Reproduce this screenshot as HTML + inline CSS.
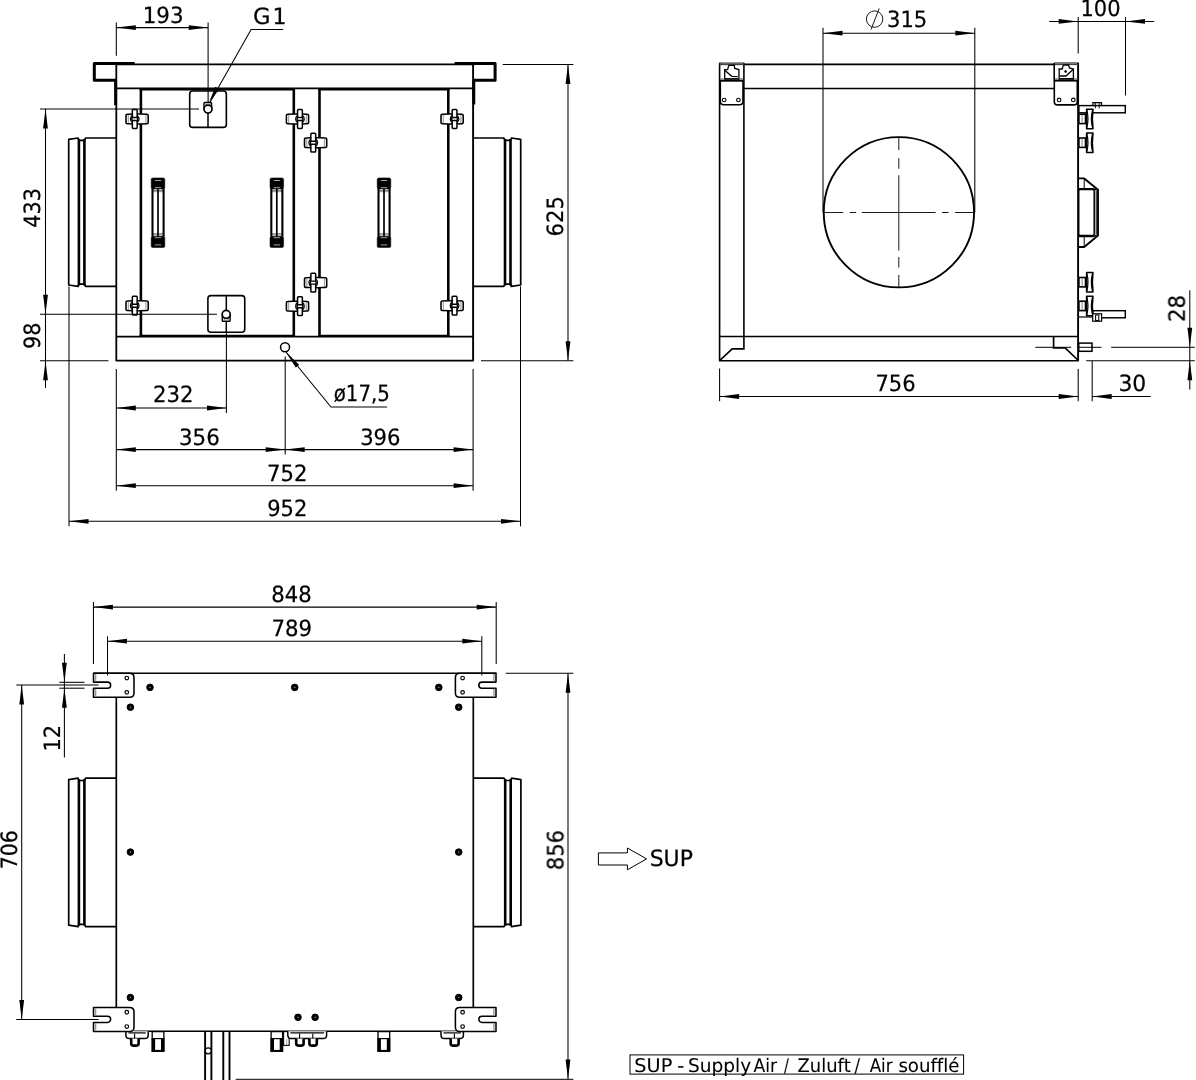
<!DOCTYPE html>
<html lang="en"><head><meta charset="utf-8"><title>Dimensional drawing</title>
<style>
html,body{margin:0;padding:0;background:#fff;}
body{width:1196px;height:1080px;overflow:hidden;}
svg{display:block;}
svg text{font-family:"DejaVu Sans","Liberation Sans",sans-serif;}
#txt{opacity:0.999;text-rendering:geometricPrecision;font-variant-ligatures:none;font-kerning:none;}
</style></head><body>
<svg width="1196" height="1080" viewBox="0 0 1196 1080" fill="none" stroke="#000" stroke-linecap="butt">
<rect x="0" y="0" width="1196" height="1080" fill="#fff" stroke="none"/>
<g id="front">
<path d="M116.30 64.30L473.10 64.30" stroke-width="1.75" />
<path d="M116.30 64.30L116.30 360.70" stroke-width="1.8" />
<path d="M473.10 64.30L473.10 360.70" stroke-width="1.9" />
<path d="M115.70 360.70L473.70 360.70" stroke-width="1.8" />
<path d="M116.30 88.40L473.10 88.40" stroke-width="1.9" />
<path d="M116.30 336.65L473.10 336.65" stroke-width="1.8" />
<path d="M140.90 88.50L140.90 336.50" stroke-width="2.6" />
<path d="M293.80 88.50L293.80 336.50" stroke-width="2.6" />
<path d="M319.50 88.50L319.50 336.50" stroke-width="2.6" />
<path d="M448.30 88.50L448.30 336.50" stroke-width="2.6" />
<path d="M139.70 89.30L295.00 89.30" stroke-width="2.4" />
<path d="M318.30 89.30L449.50 89.30" stroke-width="2.4" />
<path d="M139.70 335.90L295.00 335.90" stroke-width="2.3" />
<path d="M318.30 335.90L449.50 335.90" stroke-width="2.3" />
<path d="M127.20 114.25L134.10 113.95L140.10 113.95L147.00 114.25Q148.20 114.25 148.20 115.45L148.20 122.55Q148.20 123.75 147.00 123.75L140.10 124.05L134.10 124.05L127.20 123.75Q126.00 123.75 126.00 122.55L126.00 115.45Q126.00 114.25 127.20 114.25Z" stroke-width="1.55" fill="#fff" stroke-linejoin="round"/>
<path d="M128.30 115.00L128.30 123.00" stroke-width="0.9" stroke="#888"/>
<path d="M145.90 115.00L145.90 123.00" stroke-width="0.9" stroke="#888"/>
<path d="M132.35 115.43A4.3 4.3 0 0 0 132.35 122.57M137.15 115.43A4.3 4.3 0 0 1 137.15 122.57" stroke-width="1.25" fill="none"/>
<rect x="132.35" y="109.60" width="4.80" height="18.80" rx="0.8" stroke-width="1.5" fill="#fff" />
<rect x="131.85" y="117.50" width="5.80" height="3.00" rx="1.2" stroke-width="1.4" fill="#fff" />
<path d="M287.60 114.25L294.50 113.95L300.50 113.95L307.40 114.25Q308.60 114.25 308.60 115.45L308.60 122.55Q308.60 123.75 307.40 123.75L300.50 124.05L294.50 124.05L287.60 123.75Q286.40 123.75 286.40 122.55L286.40 115.45Q286.40 114.25 287.60 114.25Z" stroke-width="1.55" fill="#fff" stroke-linejoin="round"/>
<path d="M288.70 115.00L288.70 123.00" stroke-width="0.9" stroke="#888"/>
<path d="M306.30 115.00L306.30 123.00" stroke-width="0.9" stroke="#888"/>
<path d="M297.55 115.43A4.3 4.3 0 0 0 297.55 122.57M302.35 115.43A4.3 4.3 0 0 1 302.35 122.57" stroke-width="1.25" fill="none"/>
<rect x="297.55" y="109.60" width="4.80" height="18.80" rx="0.8" stroke-width="1.5" fill="#fff" />
<rect x="297.05" y="117.50" width="5.80" height="3.00" rx="1.2" stroke-width="1.4" fill="#fff" />
<path d="M305.70 137.95L312.60 137.65L318.60 137.65L325.50 137.95Q326.70 137.95 326.70 139.15L326.70 146.25Q326.70 147.45 325.50 147.45L318.60 147.75L312.60 147.75L305.70 147.45Q304.50 147.45 304.50 146.25L304.50 139.15Q304.50 137.95 305.70 137.95Z" stroke-width="1.55" fill="#fff" stroke-linejoin="round"/>
<path d="M306.80 138.70L306.80 146.70" stroke-width="0.9" stroke="#888"/>
<path d="M324.40 138.70L324.40 146.70" stroke-width="0.9" stroke="#888"/>
<path d="M310.85 139.13A4.3 4.3 0 0 0 310.85 146.27M315.65 139.13A4.3 4.3 0 0 1 315.65 146.27" stroke-width="1.25" fill="none"/>
<rect x="310.85" y="133.30" width="4.80" height="18.80" rx="0.8" stroke-width="1.5" fill="#fff" />
<rect x="310.35" y="141.20" width="5.80" height="3.00" rx="1.2" stroke-width="1.4" fill="#fff" />
<path d="M442.20 114.25L449.10 113.95L455.10 113.95L462.00 114.25Q463.20 114.25 463.20 115.45L463.20 122.55Q463.20 123.75 462.00 123.75L455.10 124.05L449.10 124.05L442.20 123.75Q441.00 123.75 441.00 122.55L441.00 115.45Q441.00 114.25 442.20 114.25Z" stroke-width="1.55" fill="#fff" stroke-linejoin="round"/>
<path d="M443.30 115.00L443.30 123.00" stroke-width="0.9" stroke="#888"/>
<path d="M460.90 115.00L460.90 123.00" stroke-width="0.9" stroke="#888"/>
<path d="M452.15 115.43A4.3 4.3 0 0 0 452.15 122.57M456.95 115.43A4.3 4.3 0 0 1 456.95 122.57" stroke-width="1.25" fill="none"/>
<rect x="452.15" y="109.60" width="4.80" height="18.80" rx="0.8" stroke-width="1.5" fill="#fff" />
<rect x="451.65" y="117.50" width="5.80" height="3.00" rx="1.2" stroke-width="1.4" fill="#fff" />
<path d="M127.20 300.95L134.10 300.65L140.10 300.65L147.00 300.95Q148.20 300.95 148.20 302.15L148.20 309.25Q148.20 310.45 147.00 310.45L140.10 310.75L134.10 310.75L127.20 310.45Q126.00 310.45 126.00 309.25L126.00 302.15Q126.00 300.95 127.20 300.95Z" stroke-width="1.55" fill="#fff" stroke-linejoin="round"/>
<path d="M128.30 301.70L128.30 309.70" stroke-width="0.9" stroke="#888"/>
<path d="M145.90 301.70L145.90 309.70" stroke-width="0.9" stroke="#888"/>
<path d="M132.35 302.13A4.3 4.3 0 0 0 132.35 309.27M137.15 302.13A4.3 4.3 0 0 1 137.15 309.27" stroke-width="1.25" fill="none"/>
<rect x="132.35" y="296.30" width="4.80" height="18.80" rx="0.8" stroke-width="1.5" fill="#fff" />
<rect x="131.85" y="304.20" width="5.80" height="3.00" rx="1.2" stroke-width="1.4" fill="#fff" />
<path d="M287.60 301.45L294.50 301.15L300.50 301.15L307.40 301.45Q308.60 301.45 308.60 302.65L308.60 309.75Q308.60 310.95 307.40 310.95L300.50 311.25L294.50 311.25L287.60 310.95Q286.40 310.95 286.40 309.75L286.40 302.65Q286.40 301.45 287.60 301.45Z" stroke-width="1.55" fill="#fff" stroke-linejoin="round"/>
<path d="M288.70 302.20L288.70 310.20" stroke-width="0.9" stroke="#888"/>
<path d="M306.30 302.20L306.30 310.20" stroke-width="0.9" stroke="#888"/>
<path d="M297.55 302.63A4.3 4.3 0 0 0 297.55 309.77M302.35 302.63A4.3 4.3 0 0 1 302.35 309.77" stroke-width="1.25" fill="none"/>
<rect x="297.55" y="296.80" width="4.80" height="18.80" rx="0.8" stroke-width="1.5" fill="#fff" />
<rect x="297.05" y="304.70" width="5.80" height="3.00" rx="1.2" stroke-width="1.4" fill="#fff" />
<path d="M305.70 277.85L312.60 277.55L318.60 277.55L325.50 277.85Q326.70 277.85 326.70 279.05L326.70 286.15Q326.70 287.35 325.50 287.35L318.60 287.65L312.60 287.65L305.70 287.35Q304.50 287.35 304.50 286.15L304.50 279.05Q304.50 277.85 305.70 277.85Z" stroke-width="1.55" fill="#fff" stroke-linejoin="round"/>
<path d="M306.80 278.60L306.80 286.60" stroke-width="0.9" stroke="#888"/>
<path d="M324.40 278.60L324.40 286.60" stroke-width="0.9" stroke="#888"/>
<path d="M310.85 279.03A4.3 4.3 0 0 0 310.85 286.17M315.65 279.03A4.3 4.3 0 0 1 315.65 286.17" stroke-width="1.25" fill="none"/>
<rect x="310.85" y="273.20" width="4.80" height="18.80" rx="0.8" stroke-width="1.5" fill="#fff" />
<rect x="310.35" y="281.10" width="5.80" height="3.00" rx="1.2" stroke-width="1.4" fill="#fff" />
<path d="M442.20 300.95L449.10 300.65L455.10 300.65L462.00 300.95Q463.20 300.95 463.20 302.15L463.20 309.25Q463.20 310.45 462.00 310.45L455.10 310.75L449.10 310.75L442.20 310.45Q441.00 310.45 441.00 309.25L441.00 302.15Q441.00 300.95 442.20 300.95Z" stroke-width="1.55" fill="#fff" stroke-linejoin="round"/>
<path d="M443.30 301.70L443.30 309.70" stroke-width="0.9" stroke="#888"/>
<path d="M460.90 301.70L460.90 309.70" stroke-width="0.9" stroke="#888"/>
<path d="M452.15 302.13A4.3 4.3 0 0 0 452.15 309.27M456.95 302.13A4.3 4.3 0 0 1 456.95 309.27" stroke-width="1.25" fill="none"/>
<rect x="452.15" y="296.30" width="4.80" height="18.80" rx="0.8" stroke-width="1.5" fill="#fff" />
<rect x="451.65" y="304.20" width="5.80" height="3.00" rx="1.2" stroke-width="1.4" fill="#fff" />
<path d="M134.70 63.50L94.30 63.50L94.30 80.30L116.20 80.30" stroke-width="3.0" fill="none" stroke-linejoin="round"/>
<path d="M115.60 80.20L115.60 105.20" stroke-width="3.0" />
<path d="M454.60 63.50L495.10 63.50L495.10 80.20L473.20 80.20" stroke-width="3.0" fill="none" stroke-linejoin="round"/>
<path d="M473.80 80.20L473.80 104.60" stroke-width="2.9" />
<path d="M116.30 138.00L85.60 138.00L84.40 140.30L78.90 140.30L78.10 138.00L68.70 139.40L68.70 285.00L78.10 286.40L78.90 284.10L84.40 284.10L85.60 286.40L116.30 286.40" stroke-width="1.7" fill="none" stroke-linejoin="round"/>
<path d="M78.90 139.00L78.90 285.40" stroke-width="2.6" />
<path d="M84.40 139.00L84.40 285.40" stroke-width="2.6" />
<path d="M473.10 138.00L503.80 138.00L505.00 140.30L510.50 140.30L511.30 138.00L520.70 139.40L520.70 285.00L511.30 286.40L510.50 284.10L505.00 284.10L503.80 286.40L473.10 286.40" stroke-width="1.7" fill="none" stroke-linejoin="round"/>
<path d="M510.50 139.00L510.50 285.40" stroke-width="2.6" />
<path d="M505.00 139.00L505.00 285.40" stroke-width="2.6" />
<rect x="151.20" y="177.90" width="13.60" height="11.20" rx="1.6" stroke-width="0.5" fill="#000" />
<rect x="151.20" y="236.30" width="13.60" height="11.20" rx="1.6" stroke-width="0.5" fill="#000" />
<path d="M154.80 180.50L161.20 180.50" stroke-width="0.8" stroke="#ccc"/>
<path d="M154.80 187.70L161.20 187.70" stroke-width="0.8" stroke="#ccc"/>
<path d="M154.80 237.70L161.20 237.70" stroke-width="0.8" stroke="#ccc"/>
<path d="M154.80 244.90L161.20 244.90" stroke-width="0.8" stroke="#ccc"/>
<path d="M152.20 190.50L163.80 190.50" stroke-width="0.7" stroke="#555"/>
<path d="M152.20 191.70L163.80 191.70" stroke-width="0.7" stroke="#555"/>
<path d="M152.20 234.90L163.80 234.90" stroke-width="0.7" stroke="#555"/>
<path d="M152.20 233.70L163.80 233.70" stroke-width="0.7" stroke="#555"/>
<path d="M152.50 188.90L152.50 236.50" stroke-width="2.1" />
<path d="M158.00 188.90L158.00 236.50" stroke-width="1.7" />
<path d="M163.60 188.90L163.60 236.50" stroke-width="2.1" />
<rect x="270.00" y="177.90" width="13.60" height="11.20" rx="1.6" stroke-width="0.5" fill="#000" />
<rect x="270.00" y="236.30" width="13.60" height="11.20" rx="1.6" stroke-width="0.5" fill="#000" />
<path d="M273.60 180.50L280.00 180.50" stroke-width="0.8" stroke="#ccc"/>
<path d="M273.60 187.70L280.00 187.70" stroke-width="0.8" stroke="#ccc"/>
<path d="M273.60 237.70L280.00 237.70" stroke-width="0.8" stroke="#ccc"/>
<path d="M273.60 244.90L280.00 244.90" stroke-width="0.8" stroke="#ccc"/>
<path d="M271.00 190.50L282.60 190.50" stroke-width="0.7" stroke="#555"/>
<path d="M271.00 191.70L282.60 191.70" stroke-width="0.7" stroke="#555"/>
<path d="M271.00 234.90L282.60 234.90" stroke-width="0.7" stroke="#555"/>
<path d="M271.00 233.70L282.60 233.70" stroke-width="0.7" stroke="#555"/>
<path d="M271.30 188.90L271.30 236.50" stroke-width="2.1" />
<path d="M276.80 188.90L276.80 236.50" stroke-width="1.7" />
<path d="M282.40 188.90L282.40 236.50" stroke-width="2.1" />
<rect x="377.20" y="177.90" width="13.60" height="11.20" rx="1.6" stroke-width="0.5" fill="#000" />
<rect x="377.20" y="236.30" width="13.60" height="11.20" rx="1.6" stroke-width="0.5" fill="#000" />
<path d="M380.80 180.50L387.20 180.50" stroke-width="0.8" stroke="#ccc"/>
<path d="M380.80 187.70L387.20 187.70" stroke-width="0.8" stroke="#ccc"/>
<path d="M380.80 237.70L387.20 237.70" stroke-width="0.8" stroke="#ccc"/>
<path d="M380.80 244.90L387.20 244.90" stroke-width="0.8" stroke="#ccc"/>
<path d="M378.20 190.50L389.80 190.50" stroke-width="0.7" stroke="#555"/>
<path d="M378.20 191.70L389.80 191.70" stroke-width="0.7" stroke="#555"/>
<path d="M378.20 234.90L389.80 234.90" stroke-width="0.7" stroke="#555"/>
<path d="M378.20 233.70L389.80 233.70" stroke-width="0.7" stroke="#555"/>
<path d="M378.50 188.90L378.50 236.50" stroke-width="2.1" />
<path d="M384.00 188.90L384.00 236.50" stroke-width="1.7" />
<path d="M389.60 188.90L389.60 236.50" stroke-width="2.1" />
<rect x="189.70" y="91.00" width="36.65" height="36.40" rx="3.0" stroke-width="1.6" fill="none" />
<rect x="204.00" y="102.50" width="7.60" height="6.50" rx="0.8" stroke-width="1.4" fill="none" />
<path d="M205.60 104.60L207.00 104.60" stroke-width="1.6" stroke="#777"/>
<path d="M209.00 104.60L210.40 104.60" stroke-width="1.6" stroke="#777"/>
<circle cx="208.00" cy="109.10" r="4.0" stroke-width="1.7" fill="#fff" />
<path d="M208.00 113.40L208.00 127.40" stroke-width="1.5" />
<rect x="207.90" y="295.60" width="36.85" height="36.65" rx="3.0" stroke-width="1.6" fill="none" />
<rect x="222.30" y="314.40" width="7.80" height="6.80" rx="0.8" stroke-width="1.4" fill="none" />
<path d="M223.80 318.90L225.20 318.90" stroke-width="1.6" stroke="#777"/>
<path d="M227.30 318.90L228.70 318.90" stroke-width="1.6" stroke="#777"/>
<circle cx="226.20" cy="314.35" r="4.0" stroke-width="1.7" fill="#fff" />
<path d="M226.30 295.60L226.30 310.00" stroke-width="1.5" />
<path d="M226.30 321.90L226.30 332.20" stroke-width="1.5" />
<circle cx="285.05" cy="347.30" r="4.5" stroke-width="1.5" fill="none" />
</g>
<g id="fdim">
<path d="M116.30 22.50L116.30 55.70" stroke-width="1.05" />
<path d="M208.10 22.50L208.10 102.50" stroke-width="1.05" />
<path d="M116.30 27.60L208.20 27.60" stroke-width="1.05" />
<path d="M116.30 27.60L135.80 25.20L135.80 30.00Z" fill="#000" stroke="none"/>
<path d="M208.20 27.60L188.70 25.20L188.70 30.00Z" fill="#000" stroke="none"/>
<path d="M283.20 29.40L251.10 29.40L209.60 103.00" stroke-width="1.05" fill="none" />
<path d="M209.10 102.30L215.34 86.85L219.33 89.15Z" fill="#000" stroke="none"/>
<path d="M40.00 108.90L199.00 108.90" stroke-width="1.05" />
<path d="M40.00 314.25L217.00 314.25" stroke-width="1.05" />
<path d="M40.00 360.70L108.40 360.70" stroke-width="1.05" />
<path d="M45.50 108.90L45.50 388.00" stroke-width="1.05" />
<path d="M45.50 108.90L43.10 128.40L47.90 128.40Z" fill="#000" stroke="none"/>
<path d="M45.50 314.30L43.10 294.80L47.90 294.80Z" fill="#000" stroke="none"/>
<path d="M45.50 360.70L43.10 380.20L47.90 380.20Z" fill="#000" stroke="none"/>
<path d="M502.70 64.40L573.40 64.40" stroke-width="1.05" />
<path d="M481.00 360.70L573.40 360.70" stroke-width="1.05" />
<path d="M568.00 64.40L568.00 360.70" stroke-width="1.05" />
<path d="M568.00 64.40L565.60 83.90L570.40 83.90Z" fill="#000" stroke="none"/>
<path d="M568.00 360.70L565.60 341.20L570.40 341.20Z" fill="#000" stroke="none"/>
<path d="M226.40 332.00L226.40 413.00" stroke-width="1.05" />
<path d="M116.30 408.00L226.50 408.00" stroke-width="1.05" />
<path d="M116.30 408.00L135.80 405.60L135.80 410.40Z" fill="#000" stroke="none"/>
<path d="M226.50 408.00L207.00 405.60L207.00 410.40Z" fill="#000" stroke="none"/>
<path d="M285.20 356.50L285.20 454.40" stroke-width="1.05" />
<path d="M116.30 449.60L473.10 449.60" stroke-width="1.05" />
<path d="M116.30 449.60L135.80 447.20L135.80 452.00Z" fill="#000" stroke="none"/>
<path d="M285.20 449.60L265.70 447.20L265.70 452.00Z" fill="#000" stroke="none"/>
<path d="M285.20 449.60L304.70 447.20L304.70 452.00Z" fill="#000" stroke="none"/>
<path d="M473.10 449.60L453.60 447.20L453.60 452.00Z" fill="#000" stroke="none"/>
<path d="M116.30 369.00L116.30 490.70" stroke-width="1.05" />
<path d="M473.10 369.00L473.10 490.70" stroke-width="1.05" />
<path d="M116.30 485.70L473.10 485.70" stroke-width="1.05" />
<path d="M116.30 485.70L135.80 483.30L135.80 488.10Z" fill="#000" stroke="none"/>
<path d="M473.10 485.70L453.60 483.30L453.60 488.10Z" fill="#000" stroke="none"/>
<path d="M69.00 286.40L69.00 526.30" stroke-width="1.05" />
<path d="M520.50 286.40L520.50 526.30" stroke-width="1.05" />
<path d="M69.00 521.30L520.50 521.30" stroke-width="1.05" />
<path d="M69.00 521.30L88.50 518.90L88.50 523.70Z" fill="#000" stroke="none"/>
<path d="M520.50 521.30L501.00 518.90L501.00 523.70Z" fill="#000" stroke="none"/>
<path d="M286.00 352.00L331.00 407.00L387.10 407.00" stroke-width="1.05" fill="none" />
<path d="M285.80 351.90L299.17 364.73L295.77 367.52Z" fill="#000" stroke="none"/>
</g>
<g id="side">
<path d="M719.60 63.20L719.60 360.70" stroke-width="1.6" />
<path d="M743.90 63.20L743.90 337.00" stroke-width="1.6" />
<path d="M743.70 64.40L1054.20 64.40" stroke-width="1.6" />
<path d="M744.20 88.50L1054.20 88.50" stroke-width="1.6" />
<path d="M1078.10 63.00L1078.10 360.70" stroke-width="1.9" />
<path d="M719.60 336.40L1077.40 336.40" stroke-width="1.5" />
<path d="M719.00 360.70L1078.80 360.70" stroke-width="1.6" />
<path d="M719.00 63.10L744.30 63.10" stroke-width="1.0" />
<path d="M719.60 64.60L743.70 64.60" stroke-width="1.2" stroke="#444"/>
<path d="M719.60 80.60L743.70 80.60" stroke-width="2.2" />
<path d="M720.3 81V101.3Q720.3 104.7 723.7 104.7H739.6Q743 104.7 743 101.3V81" stroke-width="1.6" fill="none"/>
<circle cx="724.20" cy="100.00" r="1.8" stroke-width="1.1" fill="none" />
<circle cx="738.40" cy="100.00" r="1.8" stroke-width="1.1" fill="none" />
<path d="M724.70 79.60L724.70 69.60L727.60 69.60L728.40 66.60L728.90 65.40L734.30 65.40L734.70 68.40L738.90 69.60L738.90 79.60" stroke-width="1.3" fill="none" />
<path d="M725.00 70.40L731.80 76.30L737.60 76.70" stroke-width="1.3" fill="none" />
<path d="M724.70 78.90L738.90 78.90" stroke-width="1.6" />
<rect x="720.60" y="78.00" width="2.60" height="2.00" rx="0" stroke-width="0.1" fill="#999" stroke="none"/>
<rect x="740.00" y="78.00" width="2.70" height="2.00" rx="0" stroke-width="0.1" fill="#999" stroke="none"/>
<path d="M1054.20 63.00L1078.80 63.00" stroke-width="1.0" />
<path d="M1054.20 64.50L1078.20 64.50" stroke-width="1.2" stroke="#444"/>
<path d="M1054.20 63.00L1054.20 81.00" stroke-width="1.6" />
<path d="M1054.20 80.50L1078.20 80.50" stroke-width="2.2" />
<path d="M1054.3 81V101.5Q1054.3 104.9 1057.7 104.9H1073.9Q1077.3 104.9 1077.3 101.5V81" stroke-width="1.6" fill="none"/>
<circle cx="1059.10" cy="99.90" r="1.8" stroke-width="1.1" fill="none" />
<circle cx="1073.30" cy="99.90" r="1.8" stroke-width="1.1" fill="none" />
<path d="M1059.20 79.40L1059.20 69.00L1062.20 69.00L1063.00 66.00L1063.60 65.00L1068.60 65.00L1069.40 68.00L1073.40 69.00L1073.40 79.40" stroke-width="1.3" fill="none" />
<path d="M1060.00 76.00L1066.00 76.00L1073.00 69.60" stroke-width="1.3" fill="none" />
<circle cx="1065.60" cy="71.50" r="0.9" stroke-width="1.0" fill="#000" />
<path d="M1059.20 78.80L1073.40 78.80" stroke-width="1.6" />
<rect x="1055.00" y="78.00" width="2.60" height="2.00" rx="0" stroke-width="0.1" fill="#999" stroke="none"/>
<rect x="1074.60" y="78.00" width="2.60" height="2.00" rx="0" stroke-width="0.1" fill="#999" stroke="none"/>
<path d="M743.90 336.40L743.90 348.90L732.20 348.90L719.60 360.70" stroke-width="1.6" fill="none" />
<path d="M1053.60 336.40L1053.60 347.80L1065.10 347.80L1077.80 360.00" stroke-width="1.7" fill="none" />
<circle cx="898.90" cy="212.25" r="75.15" stroke-width="1.9" fill="none" />
<path d="M898.8 136.7V150.1M898.8 158.2V168.7M898.8 175.2V250.6M898.8 257V267.6M898.8 274.9V287.8" stroke-width="0.9"/>
<path d="M823 212.5H843.2M849.7 212.5H856.2M861.8 212.5H935.6M942 212.5H948.5M955 212.5H974.9" stroke-width="0.9"/>
<rect x="1078.90" y="105.60" width="46.40" height="7.20" rx="0" stroke-width="1.45" fill="#fff" />
<path d="M1092.90 105.40L1092.90 102.60L1101.50 102.60L1101.50 105.40" stroke-width="1.2" fill="none" />
<path d="M1095.30 103.00L1095.30 108.20" stroke-width="1.0" />
<path d="M1099.20 103.00L1099.20 108.20" stroke-width="1.0" />
<rect x="1078.90" y="114.20" width="6.60" height="9.40" rx="0" stroke-width="1.6" fill="#fff" />
<path d="M1082.10 114.90L1082.10 122.90" stroke-width="0.8" stroke="#666"/>
<path d="M1086.6 109.15L1093.0 109.15Q1091.7 118.9 1093.0 128.65L1086.6 128.65Z" stroke-width="1.5" fill="#fff" stroke-linejoin="round"/>
<path d="M1086.8999999999999 110.15Q1089.0 118.9 1086.8999999999999 127.65" stroke-width="1.2" fill="none"/>
<path d="M1092.5 110.15Q1090.2 118.9 1092.5 127.65" stroke-width="1.2" fill="none"/>
<rect x="1078.90" y="138.00" width="6.60" height="9.40" rx="0" stroke-width="1.6" fill="#fff" />
<path d="M1082.10 138.70L1082.10 146.70" stroke-width="0.8" stroke="#666"/>
<path d="M1086.6 132.95L1093.0 132.95Q1091.7 142.7 1093.0 152.45L1086.6 152.45Z" stroke-width="1.5" fill="#fff" stroke-linejoin="round"/>
<path d="M1086.8999999999999 133.95Q1089.0 142.7 1086.8999999999999 151.45" stroke-width="1.2" fill="none"/>
<path d="M1092.5 133.95Q1090.2 142.7 1092.5 151.45" stroke-width="1.2" fill="none"/>
<rect x="1078.90" y="277.50" width="6.60" height="9.40" rx="0" stroke-width="1.6" fill="#fff" />
<path d="M1082.10 278.20L1082.10 286.20" stroke-width="0.8" stroke="#666"/>
<path d="M1086.6 272.45L1093.0 272.45Q1091.7 282.2 1093.0 291.95L1086.6 291.95Z" stroke-width="1.5" fill="#fff" stroke-linejoin="round"/>
<path d="M1086.8999999999999 273.45Q1089.0 282.2 1086.8999999999999 290.95" stroke-width="1.2" fill="none"/>
<path d="M1092.5 273.45Q1090.2 282.2 1092.5 290.95" stroke-width="1.2" fill="none"/>
<rect x="1078.90" y="301.20" width="6.60" height="9.40" rx="0" stroke-width="1.6" fill="#fff" />
<path d="M1082.10 301.90L1082.10 309.90" stroke-width="0.8" stroke="#666"/>
<path d="M1086.6 296.15L1093.0 296.15Q1091.7 305.9 1093.0 315.65L1086.6 315.65Z" stroke-width="1.5" fill="#fff" stroke-linejoin="round"/>
<path d="M1086.8999999999999 297.15Q1089.0 305.9 1086.8999999999999 314.65" stroke-width="1.2" fill="none"/>
<path d="M1092.5 297.15Q1090.2 305.9 1092.5 314.65" stroke-width="1.2" fill="none"/>
<rect x="1093.00" y="310.70" width="32.30" height="7.10" rx="0" stroke-width="1.45" fill="#fff" />
<path d="M1078.70 317.00L1092.70 317.00" stroke-width="1.2" />
<rect x="1092.70" y="313.80" width="8.90" height="7.40" rx="0" stroke-width="1.2" fill="#fff" />
<rect x="1095.60" y="315.00" width="3.20" height="5.50" rx="0" stroke-width="1.0" fill="none" />
<path d="M1078.70 178.40L1084.20 178.40L1098.00 189.80L1098.00 235.40L1084.20 247.00L1078.70 247.00" stroke-width="1.9" fill="none" stroke-linejoin="round"/>
<path d="M1084.20 178.30L1084.20 189.00" stroke-width="1.0" />
<path d="M1084.20 236.40L1084.20 247.10" stroke-width="1.0" />
<path d="M1078.70 188.80L1093.00 188.80L1096.60 189.80" stroke-width="1.5" fill="none" />
<path d="M1078.70 236.40L1093.00 236.40L1096.60 235.40" stroke-width="1.5" fill="none" />
<rect x="1078.70" y="189.60" width="15.50" height="46.00" rx="1.5" stroke-width="1.5" fill="none" />
<path d="M1096.20 190.50L1096.20 234.70" stroke-width="1.0" />
<rect x="1078.70" y="343.10" width="13.30" height="8.20" rx="0" stroke-width="1.5" fill="none" />
</g>
<g id="sdim">
<path d="M823.00 27.80L823.00 212.50" stroke-width="1.05" />
<path d="M974.80 27.80L974.80 212.50" stroke-width="1.05" />
<path d="M823.00 33.20L974.80 33.20" stroke-width="1.05" />
<path d="M823.00 33.20L842.50 30.80L842.50 35.60Z" fill="#000" stroke="none"/>
<path d="M974.80 33.20L955.30 30.80L955.30 35.60Z" fill="#000" stroke="none"/>
<circle cx="874.60" cy="19.10" r="8.2" stroke-width="0.9" fill="none" />
<path d="M871.00 29.60L879.20 8.40" stroke-width="0.9" />
<path d="M1078.20 17.10L1078.20 53.60" stroke-width="1.05" />
<path d="M1125.50 17.10L1125.50 95.50" stroke-width="1.05" />
<path d="M1049.20 21.40L1154.20 21.40" stroke-width="1.05" />
<path d="M1078.20 21.40L1058.70 19.00L1058.70 23.80Z" fill="#000" stroke="none"/>
<path d="M1125.50 21.40L1145.00 19.00L1145.00 23.80Z" fill="#000" stroke="none"/>
<path d="M719.60 368.50L719.60 401.20" stroke-width="1.05" />
<path d="M1078.20 369.00L1078.20 401.20" stroke-width="1.05" />
<path d="M1092.20 361.00L1092.20 401.20" stroke-width="1.05" />
<path d="M719.60 396.50L1078.20 396.50" stroke-width="1.05" />
<path d="M719.60 396.50L739.10 394.10L739.10 398.90Z" fill="#000" stroke="none"/>
<path d="M1078.20 396.50L1058.70 394.10L1058.70 398.90Z" fill="#000" stroke="none"/>
<path d="M1092.20 396.50L1150.80 396.50" stroke-width="1.05" />
<path d="M1092.20 396.50L1111.70 394.10L1111.70 398.90Z" fill="#000" stroke="none"/>
<path d="M1035.3 347.3H1071.2M1079 347.3H1101.5M1111.2 347.3H1194.8" stroke-width="1.0"/>
<path d="M1086.20 360.70L1194.80 360.70" stroke-width="1.05" />
<path d="M1189.80 290.30L1189.80 347.30" stroke-width="1.05" />
<path d="M1189.80 360.70L1189.80 389.40" stroke-width="1.05" />
<path d="M1189.80 347.30L1189.80 360.70" stroke-width="1.05" />
<path d="M1189.80 347.30L1187.40 327.80L1192.20 327.80Z" fill="#000" stroke="none"/>
<path d="M1189.80 360.70L1187.40 380.20L1192.20 380.20Z" fill="#000" stroke="none"/>
</g>
<g id="plan">
<path d="M93.40 673.20L496.30 673.20" stroke-width="1.4" />
<path d="M116.30 697.20L116.30 1007.70" stroke-width="1.7" />
<path d="M473.30 697.20L473.30 1007.70" stroke-width="1.7" />
<path d="M134.00 1031.30L455.80 1031.30" stroke-width="1.4" />
<circle cx="150.00" cy="687.40" r="3.3" stroke-width="1.0" fill="#000" />
<circle cx="150.00" cy="687.40" r="0.55" stroke-width="0.5" fill="#888" stroke="#888"/>
<circle cx="294.70" cy="687.40" r="3.3" stroke-width="1.0" fill="#000" />
<circle cx="294.70" cy="687.40" r="0.55" stroke-width="0.5" fill="#888" stroke="#888"/>
<circle cx="438.80" cy="687.40" r="3.3" stroke-width="1.0" fill="#000" />
<circle cx="438.80" cy="687.40" r="0.55" stroke-width="0.5" fill="#888" stroke="#888"/>
<circle cx="130.40" cy="707.20" r="3.3" stroke-width="1.0" fill="#000" />
<circle cx="130.40" cy="707.20" r="0.55" stroke-width="0.5" fill="#888" stroke="#888"/>
<circle cx="458.70" cy="707.20" r="3.3" stroke-width="1.0" fill="#000" />
<circle cx="458.70" cy="707.20" r="0.55" stroke-width="0.5" fill="#888" stroke="#888"/>
<circle cx="130.40" cy="852.10" r="3.3" stroke-width="1.0" fill="#000" />
<circle cx="130.40" cy="852.10" r="0.55" stroke-width="0.5" fill="#888" stroke="#888"/>
<circle cx="458.70" cy="852.10" r="3.3" stroke-width="1.0" fill="#000" />
<circle cx="458.70" cy="852.10" r="0.55" stroke-width="0.5" fill="#888" stroke="#888"/>
<circle cx="130.40" cy="997.50" r="3.3" stroke-width="1.0" fill="#000" />
<circle cx="130.40" cy="997.50" r="0.55" stroke-width="0.5" fill="#888" stroke="#888"/>
<circle cx="458.70" cy="997.50" r="3.3" stroke-width="1.0" fill="#000" />
<circle cx="458.70" cy="997.50" r="0.55" stroke-width="0.5" fill="#888" stroke="#888"/>
<circle cx="298.00" cy="1017.30" r="3.3" stroke-width="1.0" fill="#000" />
<circle cx="298.00" cy="1017.30" r="0.55" stroke-width="0.5" fill="#888" stroke="#888"/>
<circle cx="315.10" cy="1017.30" r="3.3" stroke-width="1.0" fill="#000" />
<circle cx="315.10" cy="1017.30" r="0.55" stroke-width="0.5" fill="#888" stroke="#888"/>
<path d="M116.30 778.20L85.60 778.20L84.40 780.50L78.90 780.50L78.10 778.20L68.70 779.60L68.70 925.20L78.10 926.60L78.90 924.30L84.40 924.30L85.60 926.60L116.30 926.60" stroke-width="1.7" fill="none" stroke-linejoin="round"/>
<path d="M78.90 779.20L78.90 925.60" stroke-width="2.6" />
<path d="M84.40 779.20L84.40 925.60" stroke-width="2.6" />
<path d="M473.30 778.20L504.00 778.20L505.20 780.50L510.70 780.50L511.50 778.20L520.90 779.60L520.90 925.20L511.50 926.60L510.70 924.30L505.20 924.30L504.00 926.60L473.30 926.60" stroke-width="1.7" fill="none" stroke-linejoin="round"/>
<path d="M510.70 779.20L510.70 925.60" stroke-width="2.6" />
<path d="M505.20 779.20L505.20 925.60" stroke-width="2.6" />
<path d="M125.9 1031.3V1035.3Q125.9 1038.6 129.4 1038.6H144.7Q148.2 1038.6 148.2 1035.3V1031.3" stroke-width="1.5" fill="#fff"/>
<path d="M128.40 1032.90L145.70 1032.90" stroke-width="1.2" />
<path d="M131.2 1038.6V1043.6Q131.2 1045.6 133.2 1045.6H136.6Q138.6 1045.6 138.6 1043.6V1038.6" stroke-width="2.6" fill="#fff"/>
<path d="M134.60 1033.50L134.60 1038.60" stroke-width="1.1" />
<rect x="152.20" y="1031.60" width="11.70" height="19.40" rx="0" stroke-width="1.3" fill="#fff" />
<path d="M153.40 1038.20L153.40 1051.60" stroke-width="3.4" />
<path d="M162.70 1038.20L162.70 1051.60" stroke-width="3.4" />
<path d="M151.80 1038.60L164.30 1038.60" stroke-width="1.2" />
<path d="M151.80 1050.90L164.30 1050.90" stroke-width="2.0" />
<rect x="271.10" y="1031.60" width="11.50" height="19.40" rx="0" stroke-width="1.3" fill="#fff" />
<path d="M272.30 1038.20L272.30 1051.60" stroke-width="3.4" />
<path d="M281.40 1038.20L281.40 1051.60" stroke-width="3.4" />
<path d="M270.70 1038.60L283.00 1038.60" stroke-width="1.2" />
<path d="M270.70 1050.90L283.00 1050.90" stroke-width="2.0" />
<rect x="283.60" y="1031.60" width="5.60" height="13.80" rx="0" stroke-width="1.1" fill="#fff" />
<path d="M286.70 1039.00L286.70 1045.00" stroke-width="0.8" stroke="#888"/>
<path d="M287.8 1031.3V1035.3Q287.8 1038.6 291.3 1038.6H323.1Q326.6 1038.6 326.6 1035.3V1031.3" stroke-width="1.5" fill="#fff"/>
<path d="M290.30 1032.90L324.10 1032.90" stroke-width="1.2" />
<path d="M296.2 1038.6V1043.6Q296.2 1045.6 298.2 1045.6H301.6Q303.6 1045.6 303.6 1043.6V1038.6" stroke-width="2.6" fill="#fff"/>
<path d="M299.60 1033.50L299.60 1038.60" stroke-width="1.1" />
<path d="M309.4 1038.6V1043.6Q309.4 1045.6 311.4 1045.6H314.8Q316.8 1045.6 316.8 1043.6V1038.6" stroke-width="2.6" fill="#fff"/>
<path d="M312.80 1033.50L312.80 1038.60" stroke-width="1.1" />
<rect x="378.00" y="1031.60" width="11.70" height="19.40" rx="0" stroke-width="1.3" fill="#fff" />
<path d="M379.20 1038.20L379.20 1051.60" stroke-width="3.4" />
<path d="M388.50 1038.20L388.50 1051.60" stroke-width="3.4" />
<path d="M377.60 1038.60L390.10 1038.60" stroke-width="1.2" />
<path d="M377.60 1050.90L390.10 1050.90" stroke-width="2.0" />
<path d="M441.0 1031.3V1035.3Q441.0 1038.6 444.5 1038.6H459.9Q463.4 1038.6 463.4 1035.3V1031.3" stroke-width="1.5" fill="#fff"/>
<path d="M443.50 1032.90L460.90 1032.90" stroke-width="1.2" />
<path d="M450.7 1038.6V1043.6Q450.7 1045.6 452.7 1045.6H456.6Q458.6 1045.6 458.6 1043.6V1038.6" stroke-width="2.6" fill="#fff"/>
<path d="M454.35 1033.50L454.35 1038.60" stroke-width="1.1" />
<path d="M93.5 673.25H129.7Q134.0 673.25 134.0 677.55V692.95Q134.0 697.25 129.7 697.25H93.5V688.2H107.6A3.0 3.0 0 0 0 107.6 682.1H93.5Z" stroke-width="1.55" fill="#fff" stroke-linejoin="round"/>
<path d="M95.60 674.05L95.60 681.50" stroke-width="1.4" stroke="#999"/>
<path d="M95.60 688.80L95.60 696.45" stroke-width="1.4" stroke="#999"/>
<circle cx="126.80" cy="678.05" r="1.8" stroke-width="1.2" fill="none" />
<circle cx="126.80" cy="692.35" r="1.8" stroke-width="1.2" fill="none" />
<path d="M496.0 673.25H459.7Q455.4 673.25 455.4 677.55V692.95Q455.4 697.25 459.7 697.25H496.0V688.2H481.9A3.0 3.0 0 0 1 481.9 682.1H496.0Z" stroke-width="1.55" fill="#fff" stroke-linejoin="round"/>
<path d="M493.90 674.05L493.90 681.50" stroke-width="1.4" stroke="#999"/>
<path d="M493.90 688.80L493.90 696.45" stroke-width="1.4" stroke="#999"/>
<circle cx="462.60" cy="678.05" r="1.8" stroke-width="1.2" fill="none" />
<circle cx="462.60" cy="692.35" r="1.8" stroke-width="1.2" fill="none" />
<path d="M93.5 1007.45H129.7Q134.0 1007.45 134.0 1011.75V1027.15Q134.0 1031.45 129.7 1031.45H93.5V1022.4000000000001H107.6A3.0 3.0 0 0 0 107.6 1016.3000000000001H93.5Z" stroke-width="1.55" fill="#fff" stroke-linejoin="round"/>
<path d="M95.60 1008.25L95.60 1015.70" stroke-width="1.4" stroke="#999"/>
<path d="M95.60 1023.00L95.60 1030.65" stroke-width="1.4" stroke="#999"/>
<circle cx="126.80" cy="1012.25" r="1.8" stroke-width="1.2" fill="none" />
<circle cx="126.80" cy="1026.55" r="1.8" stroke-width="1.2" fill="none" />
<path d="M496.0 1007.45H459.7Q455.4 1007.45 455.4 1011.75V1027.15Q455.4 1031.45 459.7 1031.45H496.0V1022.4000000000001H481.9A3.0 3.0 0 0 1 481.9 1016.3000000000001H496.0Z" stroke-width="1.55" fill="#fff" stroke-linejoin="round"/>
<path d="M493.90 1008.25L493.90 1015.70" stroke-width="1.4" stroke="#999"/>
<path d="M493.90 1023.00L493.90 1030.65" stroke-width="1.4" stroke="#999"/>
<circle cx="462.60" cy="1012.25" r="1.8" stroke-width="1.2" fill="none" />
<circle cx="462.60" cy="1026.55" r="1.8" stroke-width="1.2" fill="none" />
<path d="M205.10 1031.30L205.10 1081.00" stroke-width="1.9" />
<path d="M211.40 1031.30L211.40 1081.00" stroke-width="1.9" />
<path d="M223.30 1031.30L223.30 1081.00" stroke-width="1.9" />
<path d="M229.50 1031.30L229.50 1081.00" stroke-width="1.9" />
<circle cx="208.20" cy="1050.80" r="3.0" stroke-width="1.3" fill="#fff" />
</g>
<g id="pdim">
<path d="M93.45 602.10L93.45 663.90" stroke-width="1.05" />
<path d="M496.20 602.10L496.20 663.90" stroke-width="1.05" />
<path d="M93.45 607.10L496.20 607.10" stroke-width="1.05" />
<path d="M93.45 607.10L112.95 604.70L112.95 609.50Z" fill="#000" stroke="none"/>
<path d="M496.20 607.10L476.70 604.70L476.70 609.50Z" fill="#000" stroke="none"/>
<path d="M107.50 636.30L107.50 675.50" stroke-width="1.05" />
<path d="M481.80 636.30L481.80 675.50" stroke-width="1.05" />
<path d="M107.50 641.15L481.80 641.15" stroke-width="1.05" />
<path d="M107.50 641.15L127.00 638.75L127.00 643.55Z" fill="#000" stroke="none"/>
<path d="M481.80 641.15L462.30 638.75L462.30 643.55Z" fill="#000" stroke="none"/>
<path d="M59.30 682.30L84.50 682.30" stroke-width="1.05" />
<path d="M59.30 688.20L84.50 688.20" stroke-width="1.05" />
<path d="M64.40 654.00L64.40 757.40" stroke-width="1.05" />
<path d="M64.40 682.30L62.00 662.80L66.80 662.80Z" fill="#000" stroke="none"/>
<path d="M64.40 688.20L62.00 707.70L66.80 707.70Z" fill="#000" stroke="none"/>
<path d="M16.30 685.00L98.60 685.00" stroke-width="1.05" />
<path d="M16.30 1019.50L98.60 1019.50" stroke-width="1.05" />
<path d="M21.70 685.00L21.70 1019.50" stroke-width="1.05" />
<path d="M21.70 685.00L19.30 704.50L24.10 704.50Z" fill="#000" stroke="none"/>
<path d="M21.70 1019.50L19.30 1000.00L24.10 1000.00Z" fill="#000" stroke="none"/>
<path d="M505.70 673.20L573.40 673.20" stroke-width="1.05" />
<path d="M235.70 1079.30L573.40 1079.30" stroke-width="1.2" stroke="#333"/>
<path d="M568.00 673.20L568.00 1079.00" stroke-width="1.05" />
<path d="M568.00 673.20L565.60 692.70L570.40 692.70Z" fill="#000" stroke="none"/>
<path d="M568.00 1079.00L565.60 1059.50L570.40 1059.50Z" fill="#000" stroke="none"/>
</g>
<path d="M598.4 852.9H627.4V848L646.6 858.9L627.4 869.8V865H598.4Z" stroke-width="1.0" fill="none"/>
<rect x="630.00" y="1054.90" width="333.60" height="19.20" rx="0" stroke-width="1.0" fill="none" />
<g id="txt" stroke="#000" stroke-width="0.25" stroke-linejoin="round" fill="#000">
<text x="142.76" y="23.00" font-size="22.4" textLength="40.86" lengthAdjust="spacingAndGlyphs">193</text>
<text y="24" font-size="22.4"><tspan x="252.99" textLength="17.54" lengthAdjust="spacingAndGlyphs">G</tspan> <tspan x="272.48" textLength="14.06" lengthAdjust="spacingAndGlyphs">1</tspan></text>
<text transform="translate(40.05 227.85) rotate(-90)" font-size="22.4" textLength="39.88" lengthAdjust="spacingAndGlyphs">433</text>
<text transform="translate(563.30 236.38) rotate(-90)" font-size="22.4" textLength="40.32" lengthAdjust="spacingAndGlyphs">625</text>
<text transform="translate(40.15 348.93) rotate(-90)" font-size="22.4" textLength="26.58" lengthAdjust="spacingAndGlyphs">98</text>
<text x="152.91" y="402.00" font-size="22.4" textLength="40.47" lengthAdjust="spacingAndGlyphs">232</text>
<text x="178.98" y="445.00" font-size="22.4" textLength="40.78" lengthAdjust="spacingAndGlyphs">356</text>
<text x="360.15" y="445.00" font-size="22.4" textLength="40.40" lengthAdjust="spacingAndGlyphs">396</text>
<text x="266.98" y="481.00" font-size="22.4" textLength="40.40" lengthAdjust="spacingAndGlyphs">752</text>
<text x="267.16" y="516.00" font-size="22.4" textLength="40.21" lengthAdjust="spacingAndGlyphs">952</text>
<text x="333.68" y="401.00" font-size="22.4" textLength="56.19" lengthAdjust="spacingAndGlyphs">ø17,5</text>
<text x="887.00" y="27.00" font-size="22.4" textLength="40.23" lengthAdjust="spacingAndGlyphs">315</text>
<text x="1080.40" y="16.00" font-size="22.4" textLength="40.16" lengthAdjust="spacingAndGlyphs">100</text>
<text x="875.39" y="391.00" font-size="22.4" textLength="40.15" lengthAdjust="spacingAndGlyphs">756</text>
<text transform="translate(1184.70 322.00) rotate(-90)" font-size="22.4" textLength="27.18" lengthAdjust="spacingAndGlyphs">28</text>
<text x="1118.44" y="391.00" font-size="22.4" textLength="27.88" lengthAdjust="spacingAndGlyphs">30</text>
<text x="271.23" y="602.00" font-size="22.4" textLength="40.44" lengthAdjust="spacingAndGlyphs">848</text>
<text x="271.47" y="636.00" font-size="22.4" textLength="40.63" lengthAdjust="spacingAndGlyphs">789</text>
<text transform="translate(59.60 751.59) rotate(-90)" font-size="22.4" textLength="26.64" lengthAdjust="spacingAndGlyphs">12</text>
<text transform="translate(16.60 869.36) rotate(-90)" font-size="22.4" textLength="39.07" lengthAdjust="spacingAndGlyphs">706</text>
<text transform="translate(563.30 870.16) rotate(-90)" font-size="22.4" textLength="40.20" lengthAdjust="spacingAndGlyphs">856</text>
<text x="649.68" y="866.00" font-size="22.4" textLength="43.19" lengthAdjust="spacingAndGlyphs">SUP</text>
<text y="1072" font-size="18.8" stroke-width="0.08"><tspan x="634.37" textLength="37.92" lengthAdjust="spacingAndGlyphs">SUP</tspan> <tspan x="677.24" textLength="7.05" lengthAdjust="spacingAndGlyphs">-</tspan> <tspan x="688.01" textLength="63.27" lengthAdjust="spacingAndGlyphs">Supply</tspan> <tspan x="753.54" textLength="23.56" lengthAdjust="spacingAndGlyphs">Air</tspan> <tspan x="783.95" textLength="4.86" lengthAdjust="spacingAndGlyphs">/</tspan> <tspan x="797.51" textLength="53.35" lengthAdjust="spacingAndGlyphs">Zuluft</tspan> <tspan x="854.45" textLength="5.57" lengthAdjust="spacingAndGlyphs">/</tspan> <tspan x="869.64" textLength="22.95" lengthAdjust="spacingAndGlyphs">Air</tspan> <tspan x="898.38" textLength="61.07" lengthAdjust="spacingAndGlyphs">soufflé</tspan></text>
</g>
</svg>
</body></html>
